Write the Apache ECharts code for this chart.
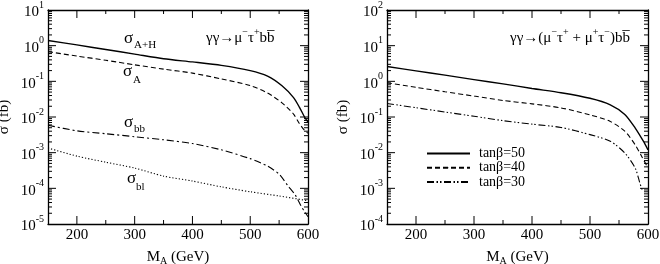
<!DOCTYPE html>
<html><head><meta charset="utf-8">
<script src="https://cdn.jsdelivr.net/npm/echarts@6/dist/echarts.min.js"></script>
<style>html,body{margin:0;padding:0;background:#fff}#c{width:660px;height:264px}</style>
</head><body><div id="c"></div>
<script>
// ---- data ----
const massAH = [150,200,250,300,350,400,450,500,530,555,575,585,594,600];
const sigAH  = [1.4,1.05,0.78,0.58,0.43,0.35,0.28,0.20,0.14,0.075,0.035,0.019,0.010,0.0072];
const massA  = [150,200,250,300,350,400,450,500,530,555,575,585,594,600];
const sigA   = [0.68,0.51,0.39,0.29,0.22,0.17,0.117,0.076,0.047,0.025,0.012,0.0066,0.0042,0.0035];
const massBB = [150,200,250,300,350,400,450,500,530,550,565,578,588,595,600];
const sigBB  = [0.0059,0.0041,0.0034,0.0028,0.0023,0.0018,0.0012,0.00068,0.00042,0.00025,0.00012,0.000065,0.000032,0.000021,0.000016];
const massBL = [150,200,250,300,350,400,450,500,550,600];
const sigBL  = [0.00135,0.0008,0.00054,0.00037,0.00022,0.00016,0.00011,0.00008,0.000061,0.000045];

const mass50 = [150,200,250,300,350,400,450,500,535,560,578,592,600];
const sig50  = [2.6,1.97,1.49,1.12,0.85,0.63,0.48,0.335,0.22,0.118,0.049,0.021,0.012];
const mass40 = [150,200,250,300,350,400,450,500,535,560,578,589,597,600];
const sig40  = [0.91,0.68,0.51,0.386,0.29,0.234,0.18,0.115,0.075,0.04,0.0165,0.0079,0.0046,0.004];
const mass30 = [150,200,250,300,350,400,450,500,535,560,578,586,590];
const sig30  = [0.24,0.182,0.138,0.105,0.079,0.063,0.051,0.032,0.021,0.0098,0.0037,0.0014,0.0009];

const legendNames = ['tanβ=50','tanβ=40','tanβ=30'];
const xRange = [150,600];
const xMajor = [200,300,400,500,600];
const xMinor = [250,350,450,550];
const yDecL = [1e-5,1e-4,1e-3,1e-2,1e-1,1,10];
const yDecR = [1e-4,1e-3,1e-2,1e-1,1,10,100];
const minorMult = [2,3,4,5,6,7,8,9];

// ---- chart ----
const FONT = 'Liberation Serif';
const pair = (xs, ys) => xs.map((x,i)=>[x, ys[i]]);
const minorOf = decs => { const r=[]; decs.slice(0,-1).forEach(d=>minorMult.forEach(m=>r.push(+(d*m).toPrecision(3)))); return r; };

const grids = [
  {left:48, top:10, width:260, height:214, outerBoundsMode:'none'},
  {left:387, top:10, width:261, height:214, outerBoundsMode:'none'}
];
const lineC = '#000';
const xAxes = [], yAxes = [];
[0,1].forEach(g=>{
  const decs = g===0 ? yDecL : yDecR;
  xAxes.push({
    gridIndex:g, type:'value', min:xRange[0], max:xRange[1], position:'bottom',
    axisLine:{show:true, lineStyle:{color:lineC, width:1.3}},
    axisTick:{show:false},
    axisLabel:{show:true, customValues:xMajor, margin:4, color:'#000', fontFamily:FONT, fontSize:15},
    splitLine:{show:false},
    name:'{m|M}{s|A}{m| (GeV)}', nameLocation:'middle', nameGap:19,
    nameTextStyle:{color:'#000', fontFamily:FONT, fontSize:15,
      rich:{m:{fontSize:15, fontFamily:FONT, verticalAlign:'top', lineHeight:16},
            s:{fontSize:10, fontFamily:FONT, verticalAlign:'bottom', lineHeight:10, padding:[8,0,0,0]}}}
  });
  xAxes.push({
    gridIndex:g, type:'value', min:xRange[0], max:xRange[1], position:'top',
    axisLine:{show:true, lineStyle:{color:lineC, width:1.3}},
    axisTick:{show:false}, axisLabel:{show:false}, splitLine:{show:false}
  });
  yAxes.push({
    gridIndex:g, type:'log', logBase:10, min:decs[0], max:decs[decs.length-1], position:'left',
    axisLine:{show:true, lineStyle:{color:lineC, width:1.3}},
    axisTick:{show:false},
    axisLabel:{show:true, customValues:decs, margin:4, color:'#000', fontFamily:FONT,
      formatter: v => '{b|10}{e|' + Math.round(Math.log10(v)) + '}',
      rich:{b:{fontSize:15, fontFamily:FONT, verticalAlign:'bottom', lineHeight:20},
            e:{fontSize:10, fontFamily:FONT, verticalAlign:'top', lineHeight:10}}},
    splitLine:{show:false},
    name:'σ (fb)', nameLocation:'middle', nameGap:36, nameRotate:90,
    nameTextStyle:{color:'#000', fontFamily:FONT, fontSize:15}
  });
  yAxes.push({
    gridIndex:g, type:'log', logBase:10, min:decs[0], max:decs[decs.length-1], position:'right',
    axisLine:{show:true, lineStyle:{color:lineC, width:1.3}},
    axisTick:{show:false}, axisLabel:{show:false}, splitLine:{show:false}
  });
});

// tick marks on all four sides: one plain line per tick, placed through the axes' scales
function tickSeries(g, decs){
  const ymin = decs[0], ymax = decs[decs.length-1];
  const data = [];
  [0,1].forEach(side=>{
    xMajor.forEach(v=>data.push([v, ymin, 0, side]));
    xMinor.forEach(v=>data.push([v, ymin, 1, side]));
    decs.forEach(v=>data.push([xRange[0], v, 2, side]));
    minorOf(decs).forEach(v=>data.push([xRange[0], v, 3, side]));
  });
  return {
    type:'custom', xAxisIndex:g*2, yAxisIndex:g*2, data,
    renderItem:(params, api)=>{
      const kind = api.value(2), side = api.value(3);
      const bl = api.coord([xRange[0], ymin]), tr = api.coord([xRange[1], ymax]);
      let s;
      if (kind < 2) {
        const x = api.coord([api.value(0), ymin])[0], len = kind===0 ? 8 : 4;
        if (x <= bl[0]+0.5 || x >= tr[0]-0.5) return null;
        s = side===0 ? {x1:x, y1:bl[1], x2:x, y2:bl[1]-len} : {x1:x, y1:tr[1], x2:x, y2:tr[1]+len};
      } else {
        const y = api.coord([xRange[0], api.value(1)])[1], len = kind===2 ? 8 : 4;
        if (y >= bl[1]-0.5 || y <= tr[1]+0.5) return null;
        s = side===0 ? {x1:bl[0], y1:y, x2:bl[0]+len, y2:y} : {x1:tr[0], y1:y, x2:tr[0]-len, y2:y};
      }
      return {type:'line', shape:s, style:{stroke:'#000', lineWidth:1}};
    }
  };
}

const mk = (name, g, data, width, dash) => ({
  name, type:'line', xAxisIndex:g*2, yAxisIndex:g*2, data, symbol:'none', smooth:0.25,
  lineStyle:{color:'#000', width, type:dash}, itemStyle:{color:'#000'}, silent:true
});

const series = [
  mk('AH',0,pair(massAH,sigAH),1.4,'solid'),
  mk('A',0,pair(massA,sigA),1.1,[5,3]),
  mk('bb',0,pair(massBB,sigBB),1.1,[7,3,2,3]),
  mk('bl',0,pair(massBL,sigBL),1.1,[1.2,2]),
  mk(legendNames[0],1,pair(mass50,sig50),1.4,'solid'),
  mk(legendNames[1],1,pair(mass40,sig40),1.1,[5,3]),
  mk(legendNames[2],1,pair(mass30,sig30),1.1,[7,2.5,1.5,2,1.5,2.5]),
  tickSeries(0, yDecL),
  tickSeries(1, yDecR)
];

const txt = (x,y,text,size) => ({type:'text', left:x, top:y, silent:true,
  style:{text, fill:'#000', font: size + 'px "' + FONT + '"'}});
const tRich = {
  t:{fontSize:15, fontFamily:FONT, verticalAlign:'bottom', lineHeight:19, fill:'#000'},
  p:{fontSize:10, fontFamily:FONT, verticalAlign:'top', lineHeight:10, fill:'#000'}
};
const rText = (pos,text) => Object.assign({type:'text', top:27, silent:true, style:{text, rich:tRich, fill:'#000'}}, pos);

const chart = echarts.init(document.getElementById('c'), null, {renderer:'canvas'});
chart.setOption({
  animation:false,
  grid:grids,
  xAxis:xAxes,
  yAxis:yAxes,
  series,
  legend:{
    data:legendNames, orient:'vertical', left:421, top:141.5, itemWidth:43, itemHeight:1, itemGap:0.3,
    textStyle:{fontFamily:FONT, fontSize:14, color:'#000', lineHeight:13, padding:[0,0,0,4]},
    selectedMode:false
  },
  graphic:[
    txt(124,30,'σ',17), txt(134,40,'A+H',11),
    txt(123,63,'σ',17), txt(133,75,'A',11),
    txt(124,114,'σ',17), txt(134,124,'bb',11),
    txt(127,170,'σ',17), txt(136,182,'bl',11),
    rText({left:206},'{t|γγ→μ}{p|−}{t|τ}{p|+}{t|bb\u0305}'),
    rText({right:30},'{t|γγ→(μ}{p|−}{t|τ}{p|+}{t| + μ}{p|+}{t|τ}{p|−}{t|)bb\u0305}')
  ]
});
</script></body></html>
